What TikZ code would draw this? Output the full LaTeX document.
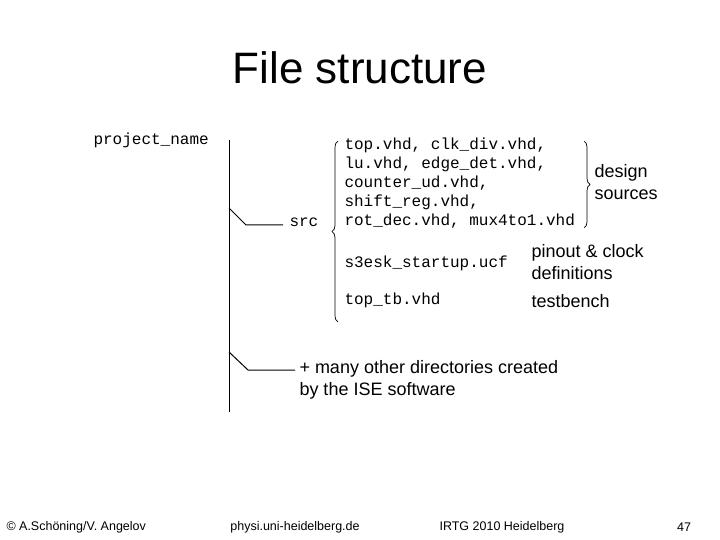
\documentclass[tikz,border=0pt]{standalone}
\usepackage{fontspec}
\setmainfont{Liberation Sans}
\newfontfamily\codefont{Liberation Mono}
\usetikzlibrary{decorations.pathreplacing}
\begin{document}
\begin{tikzpicture}[x=1pt,y=-1pt,line width=1pt,
  code/.style={font=\codefont\fontsize{16}{19}\selectfont,anchor=west,inner sep=0,align=left},
  txt/.style={font=\fontsize{18}{21.5}\selectfont,anchor=west,inner sep=0,align=left},
  foot/.style={font=\fontsize{12.5}{14}\selectfont,inner sep=0},
  br/.style={decorate,decoration={brace,amplitude=6pt},line width=0.7pt}]
\useasboundingbox (0,0) rectangle (720,540);
\node[font=\fontsize{44}{50}\selectfont,inner sep=0] (title) at (360,68) {File structure};
\node[code] (proj) at (93,140) {project\_name};
\coordinate (vt) at (229,140);
\coordinate (vb) at (229,412);
\draw (vt) -- (vb);
\coordinate (b1) at (229,208);
\coordinate (b1e) at (246,225);
\coordinate (b1h) at (283,225);
\draw (b1) -- (b1e) -- (b1h);
\node[code] (src) at (289,222) {src};
\node[code] (files) at (344,183) {top.vhd, clk\_div.vhd,\\lu.vhd, edge\_det.vhd,\\counter\_ud.vhd,\\shift\_reg.vhd,\\rot\_dec.vhd, mux4to1.vhd};
\node[code] (ucf) at (344,263) {s3esk\_startup.ucf};
\node[code] (tb) at (344,300) {top\_tb.vhd};
\coordinate (lb1) at (338,141);
\coordinate (lb2) at (338,322);
\draw[br] (lb2) -- (lb1);
\coordinate (rb1) at (584,141);
\coordinate (rb2) at (584,228);
\draw[br] (rb1) -- (rb2);
\node[txt] (design) at (594,182) {design\\sources};
\node[txt] (pin) at (531,262) {pinout \& clock\\definitions};
\node[txt] (tbl) at (531,301) {testbench};
\coordinate (b2) at (229,352);
\coordinate (b2e) at (248,370);
\coordinate (b2h) at (295,370);
\draw (b2) -- (b2e) -- (b2h);
\node[txt] (many) at (299,380) {+ many other directories created\\by the ISE software};
\node[foot,anchor=west] (f1) at (6,527) {© A.Schöning/V. Angelov};
\node[foot] (f2) at (295,527) {physi.uni-heidelberg.de};
\node[foot] (f3) at (502,527) {IRTG 2010 Heidelberg};
\node[foot] (f4) at (684,527) {47};
\end{tikzpicture}
\end{document}
